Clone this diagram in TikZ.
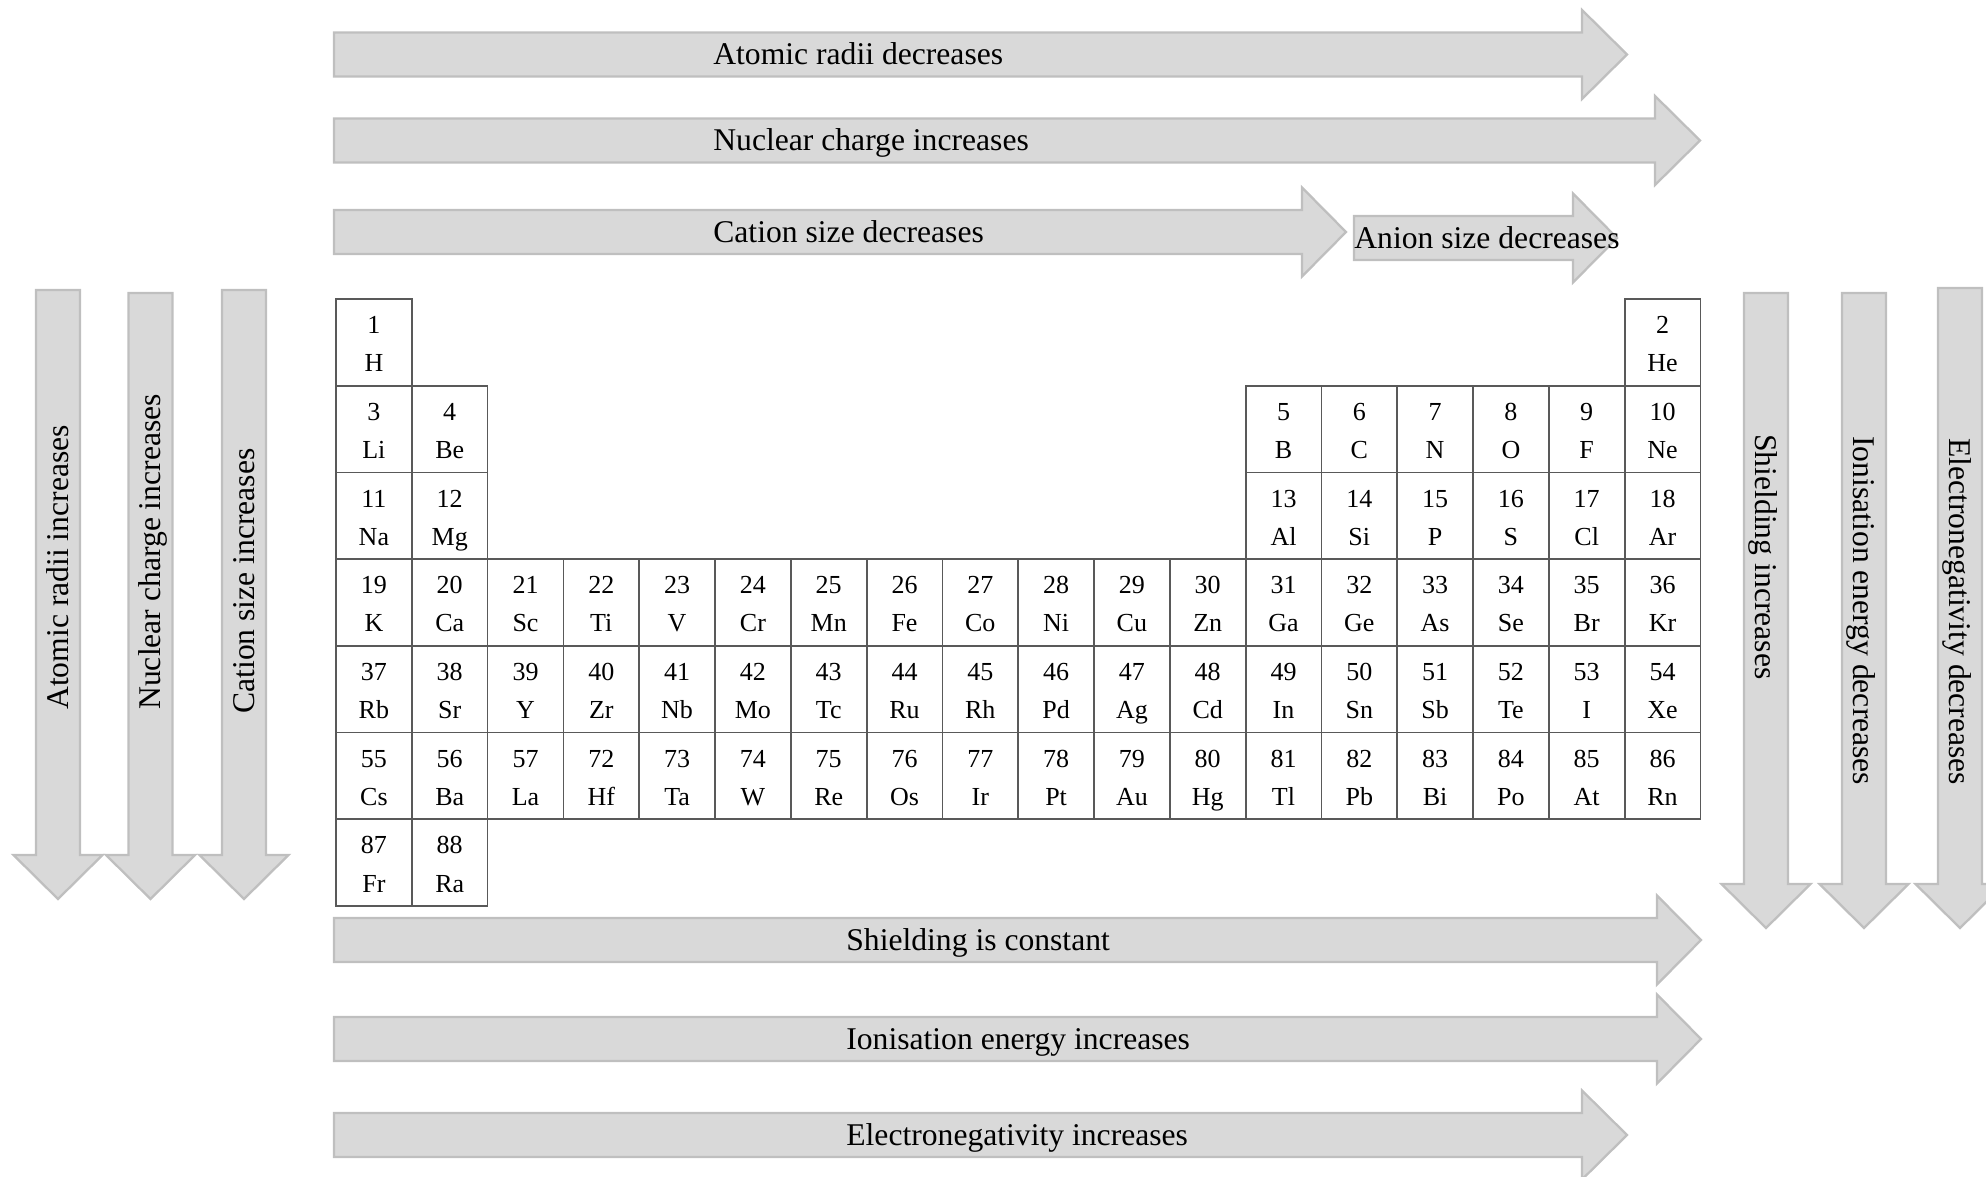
\documentclass[tikz,border=0pt]{standalone}
\usepackage{fontspec}
\setmainfont{Liberation Serif}
\newcommand\cst{\rule[-3.5pt]{0pt}{18.9pt}}

\begin{document}
\begin{tikzpicture}[
  x=0.02cm,y=-0.02cm,
  blk/.style={fill=black!15,draw=black!25,line width=1.3pt},
  cell/.style={rectangle,draw=black!65,line width=1pt,minimum width=1.516cm,
               minimum height=1.734cm,inner sep=0pt,align=center,
               font=\fontsize{14.8}{21.7}\selectfont},
  lbl/.style={inner sep=0pt,text height=11.9pt,text depth=0pt,
              font=\fontsize{18}{20}\selectfont}
]
  \useasboundingbox (0,0) rectangle (1986,1176);

  % horizontal arrows
  \foreach \xa/\xh/\xt/\yc in {334/1582/1627/54.5,334/1655/1700/140.5,334/1302/1346/232,
      1354/1573/1617/238,334/1657/1701/940,334/1657/1701/1039,334/1582/1627/1135}
    \draw[blk] (\xa,\yc-22) -- (\xh,\yc-22) -- (\xh,\yc-44.5) -- (\xt,\yc)
      -- (\xh,\yc+44.5) -- (\xh,\yc+22) -- (\xa,\yc+22) -- cycle;
  % vertical arrows
  \foreach \xc/\ya/\yh/\yt in {58/290/855/899,150.5/293/855/899,244/290/855/899,
      1766/293/884/928,1864/293/884/928,1960/288/884/928}
    \draw[blk] (\xc-22,\ya) -- (\xc+22,\ya) -- (\xc+22,\yh) -- (\xc+44.5,\yh)
      -- (\xc,\yt) -- (\xc-44.5,\yh) -- (\xc-22,\yh) -- cycle;

  % periodic table
  \foreach \z/\sym/\c/\r in {1/H/1/1,2/He/18/1,3/Li/1/2,4/Be/2/2,5/B/13/2,6/C/14/2,
      7/N/15/2,8/O/16/2,9/F/17/2,10/Ne/18/2,11/Na/1/3,12/Mg/2/3,13/Al/13/3,14/Si/14/3,
      15/P/15/3,16/S/16/3,17/Cl/17/3,18/Ar/18/3,87/Fr/1/7,88/Ra/2/7}
    \node[cell] (el\sym) at ({336+(\c-0.5)*75.8},{299+(\r-0.5)*86.7}) {\cst\z\\\cst\sym};
  \foreach \z/\sym [count=\c] in {19/K,20/Ca,21/Sc,22/Ti,23/V,24/Cr,25/Mn,26/Fe,27/Co,
      28/Ni,29/Cu,30/Zn,31/Ga,32/Ge,33/As,34/Se,35/Br,36/Kr}
    \node[cell] (el\sym) at ({336+(\c-0.5)*75.8},{299+3.5*86.7}) {\cst\z\\\cst\sym};
  \foreach \z/\sym [count=\c] in {37/Rb,38/Sr,39/Y,40/Zr,41/Nb,42/Mo,43/Tc,44/Ru,45/Rh,
      46/Pd,47/Ag,48/Cd,49/In,50/Sn,51/Sb,52/Te,53/I,54/Xe}
    \node[cell] (el\sym) at ({336+(\c-0.5)*75.8},{299+4.5*86.7}) {\cst\z\\\cst\sym};
  \foreach \z/\sym [count=\c] in {55/Cs,56/Ba,57/La,72/Hf,73/Ta,74/W,75/Re,76/Os,77/Ir,
      78/Pt,79/Au,80/Hg,81/Tl,82/Pb,83/Bi,84/Po,85/At,86/Rn}
    \node[cell] (el\sym) at ({336+(\c-0.5)*75.8},{299+5.5*86.7}) {\cst\z\\\cst\sym};

  % trend labels
  \node[lbl,anchor=west] (radiiH) at (713,54.5) {Atomic radii decreases};
  \node[lbl,anchor=west] (chargeH) at (713,140.5) {Nuclear charge increases};
  \node[lbl,anchor=west] (cationH) at (713,232) {Cation size decreases};
  \node[lbl,anchor=west] (anionH) at (1354,238) {Anion size decreases};
  \node[lbl,anchor=west] (shieldH) at (846,940) {Shielding is constant};
  \node[lbl,anchor=west] (ionH) at (846,1039) {Ionisation energy increases};
  \node[lbl,anchor=west] (enegH) at (846,1135) {Electronegativity increases};
  \node[lbl,rotate=90,anchor=west] (radiiV) at (58,710) {Atomic radii increases};
  \node[lbl,rotate=90,anchor=west] (chargeV) at (150.5,710) {Nuclear charge increases};
  \node[lbl,rotate=90,anchor=west] (cationV) at (244,714) {Cation size increases};
  \node[lbl,rotate=-90,anchor=west] (shieldV) at (1766,434) {Shielding increases};
  \node[lbl,rotate=-90,anchor=west] (ionV) at (1864,436) {Ionisation energy decreases};
  \node[lbl,rotate=-90,anchor=west] (enegV) at (1960,438) {Electronegativity decreases};
\end{tikzpicture}
\end{document}
